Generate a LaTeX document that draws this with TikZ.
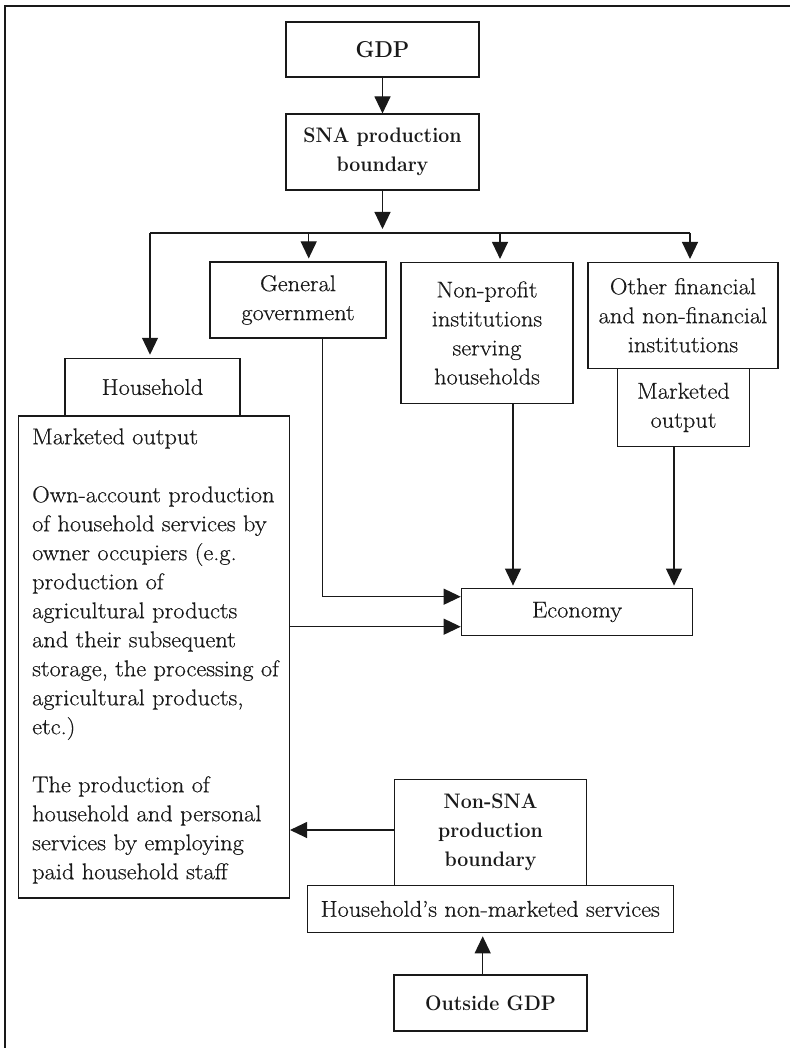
\documentclass[tikz,border=0pt]{standalone}
\usepackage{fontspec}
\newfontfamily\rfam{Latin Modern Roman}[FakeStretch=1.07,FakeBold=0.5]
\newfontfamily\bfam{Latin Modern Roman}[FakeStretch=0.93]
\usetikzlibrary{arrows.meta,calc}
\definecolor{ink}{RGB}{25,25,25}
\begin{document}
\begin{tikzpicture}[x=1pt,y=-1pt,
  box/.style={draw=ink,line width=1.1pt,inner sep=0pt,align=center,text=ink,font=\fontsize{22.8}{29}\rfam},
  bbox/.style={box,font=\fontsize{21}{29}\bfam\bfseries},
  txt/.style={inner sep=0pt,align=left,text=ink,font=\fontsize{22.8}{29}\rfam},
  conn/.style={draw=ink,line width=1.1pt},
  arr/.style={conn,-{Triangle[length=17pt,width=16pt]}},
]
\useasboundingbox (0,0) rectangle (790,1048);
% frame (cropped)
\draw[conn] (5,1048) -- (5,6) -- (790,6);

% boxes
\node[bbox,minimum width=193pt,minimum height=55pt,font=\fontsize{23}{29}\bfam\bfseries] (gdp) at (382.5,49.5) {GDP};
\node[bbox,minimum width=193pt,minimum height=76pt] (sna) at (382.5,152) {SNA production\\boundary};
\node[box,minimum width=176pt,minimum height=76pt] (gg) at (298,300) {General\\government};
\node[box,minimum width=172pt,minimum height=141pt] (np) at (487,333) {Non-profit\\institutions\\serving\\households};
\node[box,minimum width=190pt,minimum height=105.5pt] (of) at (683,315.3) {Other financial\\and non-financial\\institutions};
\node[box,minimum width=131.6pt,minimum height=78.7pt] (mo) at (683.5,407.4) {Marketed\\output};
\node[box,minimum width=271pt,minimum height=482pt] (big) at (154,657) {};
\node[box,minimum width=175pt,minimum height=57.4pt] (hh) at (152.5,387) {Household};
\node[txt,anchor=north west] (bigtxt) at (32,428.2) {Marketed output\\[29pt]
Own-account production\\
of household services by\\
owner occupiers (e.g.\\
production of\\
agricultural products\\
and their subsequent\\
storage, the processing of\\
agricultural products,\\
etc.)\\[29pt]
The production of\\
household and personal\\
services by employing\\
paid household staff};
\node[box,minimum width=231.5pt,minimum height=47.7pt] (eco) at (577,612) {Economy};
\node[bbox,minimum width=192.4pt,minimum height=105.3pt] (nsna) at (490.5,832.4) {Non-SNA\\production\\boundary};
\node[box,minimum width=366pt,minimum height=47.7pt] (hnm) at (490.3,908.9) {Household’s non-marketed services};
\node[bbox,minimum width=193pt,minimum height=56pt] (out) at (490.5,1003) {Outside GDP};

% connectors
\coordinate (hl) at (150,233);
\coordinate (hr) at (690,233);
\coordinate (bg) at (308.7,233);
\coordinate (bn) at (500,233);
\draw[arr] (gdp.south) -- (sna.north);
\draw[arr,shorten >=4pt] (sna.south) -- (sna.south |- hl);
\draw[conn] (hl) -- (hr);
\draw[arr,shorten >=3pt] (hl) -- (hl |- hh.north);
\draw[arr,shorten >=3pt] (bg) -- (bg |- gg.north);
\draw[arr,shorten >=3pt] (bn) -- (bn |- np.north);
\draw[arr,shorten >=3pt] (hr) -- (hr |- of.north);

\coordinate (gge) at (322.7,596.7);
\draw[arr] (gge |- gg.south) -- (gge) -- (gge -| eco.west);
\coordinate (bge) at (0,626.7);
\draw[arr] (bge -| big.east) -- (bge -| eco.west);
\coordinate (npx) at (513,0);
\draw[arr,shorten >=2pt] (npx |- np.south) -- (npx |- eco.north);
\coordinate (mox) at (674,0);
\draw[arr,shorten >=2pt] (mox |- mo.south) -- (mox |- eco.north);
\coordinate (nsy) at (0,830);
\draw[arr] (nsy -| nsna.west) -- (nsy -| big.east);
\coordinate (oux) at (482.7,0);
\draw[arr,shorten >=3pt] (oux |- out.north) -- (oux |- hnm.south);
\end{tikzpicture}
\end{document}
